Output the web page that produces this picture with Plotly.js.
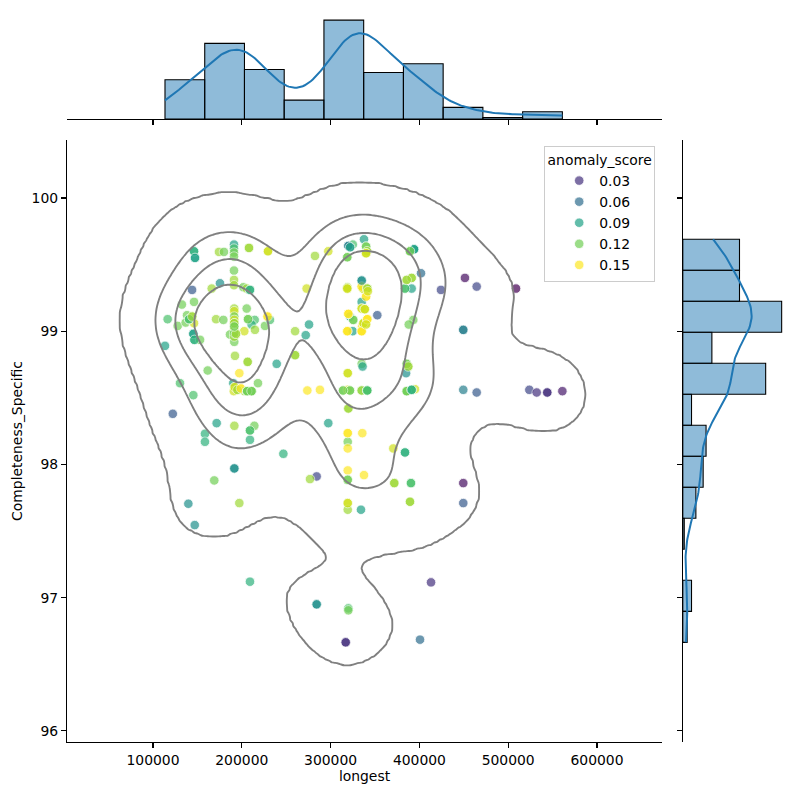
<!DOCTYPE html>
<html><head><meta charset="utf-8">
<script src="https://cdn.plot.ly/plotly-3.0.1.min.js"></script>
<style>html,body{margin:0;padding:0;background:#fff}#chart{width:800px;height:800px}</style>
</head><body><div id="chart"></div>
<script>
// ---------------- data ----------------
const longest = [
 // left / lower-left
 113500,116500,122300,130400,127800,132500,139800,147000,145400,158500,158500,171700,169000,197200,191600,161600,191600,209200,214100,209200,246800,239300,260000,190400,197200,192300,206600,218200,192000,195000,199000,203000,206000,211000,191000,
 // upper-left cluster
 146200,147300,174300,179900,191200,191200,191200,191200,208100,229500,191200,191200,191200,175400,166100,144000,201700,205500,209200,146200,138300,136800,144200,146200,140600,145400,146600,153000,171000,179200,191500,191500,191500,191500,191500,191500,191500,191500,191500,191500,205500,207000,214500,211000,202800,226100,229000,231700,186700,193500,214800,
 // middle
 282400,297400,273000,260000,272000,275700,273800,288000,297400,284300,276800,284300,209200,
 // right cluster and right side
 320000,325000,322000,337600,340000,341000,340000,318800,389400,394000,401800,385700,391300,383800,391300,318800,318800,335000,335000,336500,341300,340000,335000,335000,338500,352600,320000,321800,325500,341300,337000,335500,318800,324900,335000,393100,335000,336000,319300,385700,387500,385000,314000,319300,321800,335000,341300,385700,391300,395000,449400,464500,449400,320000,319300,335700,319300,319300,370600,383800,319300,319300,337600,371700,390500,449400,319300,319300,334200,389400,449400,451300,464500,424300,508800,523800,532100,544000,561000,320000,320000,413100,317000,400700,
 // overlapping repeats
 317000,284300,319300,389400,319300,371700,390500,191600,319300,383800,209200,320000,
 192000,195000,199000,206000,211000,319300,321800,314000,335000,341300,341300,341300,385700,385700,391300,391300,385700,387500,206000,206000,211000,544000,
 191500,191500,193500,145400,146600,206600,260000,
 140600,144200,325500,320000,340000,207000,337000,229000,318800,318800,335000,335000,320000,335000,337000,341300,341300,338500,338500,340000,389400,394000,388000,449400,
 336500,209200,318800,318800,335000,341300,341300,340000,342000,391300,383800,385700,335000,
 146200,147300,191500,191500,341000,208100,229500,320000,322000,318800,340000,341000,340000,340000,389400,394000,389400
];
const completeness = [
 98.89,99.09,98.38,98.61,99.04,99.20,97.705,97.545,98.52,98.23,98.17,98.31,97.88,97.71,97.97,98.705,98.29,98.255,98.29,98.185,98.08,98.755,98.82,98.61,98.685,98.815,98.77,98.61,98.58,98.56,98.57,98.55,98.55,98.55,98.55,
 99.60,99.55,99.595,99.595,99.65,99.62,99.59,99.56,99.625,99.60,99.455,99.385,99.345,99.36,99.32,99.31,99.33,99.32,99.31,99.22,99.12,99.065,99.11,99.06,99.09,98.98,98.935,98.935,99.09,99.085,99.17,99.15,99.11,99.085,99.06,99.035,99.01,98.985,98.96,98.92,99.17,99.09,99.085,99.05,99.00,99.04,99.11,99.085,98.975,98.98,99.01,
 99.565,99.60,99.32,99.00,98.97,99.05,98.555,98.56,98.31,97.91,97.89,96.95,97.12,
 99.64,99.65,99.63,99.69,99.635,99.60,99.585,99.555,99.60,99.615,99.435,99.385,99.40,99.32,99.32,99.32,99.33,99.38,99.335,99.32,99.32,99.26,99.22,99.17,99.165,99.12,99.13,99.11,99.085,99.09,99.06,99.035,99.00,99.00,99.00,99.085,98.755,98.735,98.685,98.755,98.735,98.685,98.555,98.56,98.555,98.555,98.555,98.55,98.56,98.565,98.56,98.54,99.01,98.42,98.235,98.235,98.17,98.12,98.12,98.09,97.955,97.885,97.92,97.86,97.86,97.86,97.71,97.66,97.66,97.72,97.71,99.40,99.335,99.31,99.32,98.56,98.54,98.54,98.55,96.92,96.905,97.115,96.665,96.685,
 96.665,96.95,97.71,97.72,97.885,97.86,97.86,97.97,98.235,98.09,98.255,98.42,
 98.58,98.56,98.57,98.55,98.55,98.685,98.555,98.555,98.555,98.555,98.555,98.555,98.55,98.55,98.56,98.56,98.755,98.735,98.55,98.55,98.55,98.54,
 98.96,98.985,98.98,98.98,98.935,98.77,98.82,
 99.09,99.11,99.085,99.13,99.06,99.09,99.06,99.11,99.00,99.00,99.00,99.00,99.13,99.17,99.06,99.09,99.09,99.165,99.165,99.05,99.60,99.615,99.05,99.01,
 99.32,99.31,99.32,99.32,99.335,99.32,99.32,99.26,99.30,99.40,99.32,99.385,99.38,
 99.60,99.55,99.06,99.035,99.60,99.625,99.60,99.64,99.63,99.555,99.635,99.60,99.585,99.585,99.60,99.615,99.60
];
const anomalyScore = [
 0.09,0.11,0.05,0.11,0.12,0.12,0.08,0.08,0.11,0.10,0.10,0.09,0.12,0.13,0.08,0.12,0.13,0.11,0.12,0.10,0.10,0.09,0.13,0.09,0.15,0.13,0.13,0.12,0.14,0.13,0.15,0.13,0.12,0.12,0.14,
 0.10,0.09,0.13,0.12,0.09,0.11,0.12,0.12,0.13,0.14,0.12,0.13,0.13,0.08,0.13,0.05,0.12,0.13,0.10,0.12,0.12,0.12,0.13,0.14,0.11,0.09,0.10,0.12,0.13,0.12,0.13,0.14,0.12,0.14,0.13,0.12,0.14,0.12,0.13,0.12,0.12,0.12,0.11,0.10,0.14,0.12,0.15,0.11,0.12,0.13,0.13,
 0.13,0.14,0.14,0.13,0.09,0.09,0.15,0.15,0.09,0.04,0.13,0.08,0.10,
 0.07,0.11,0.09,0.09,0.12,0.13,0.14,0.12,0.12,0.09,0.06,0.13,0.13,0.11,0.09,0.14,0.13,0.08,0.15,0.14,0.13,0.15,0.09,0.14,0.14,0.05,0.15,0.09,0.12,0.15,0.14,0.15,0.15,0.09,0.15,0.12,0.12,0.09,0.14,0.12,0.13,0.08,0.12,0.14,0.12,0.12,0.11,0.12,0.10,0.14,0.07,0.05,0.07,0.13,0.15,0.15,0.12,0.15,0.14,0.10,0.15,0.12,0.15,0.13,0.11,0.015,0.14,0.13,0.09,0.13,0.05,0.015,0.04,0.04,0.01,0.04,0.03,0.03,0.02,0.11,0.12,0.03,0.03,0.06,
 0.03,0.08,0.14,0.13,0.12,0.13,0.11,0.08,0.15,0.10,0.11,0.13,
 0.14,0.13,0.15,0.12,0.12,0.14,0.12,0.12,0.13,0.11,0.11,0.11,0.12,0.12,0.10,0.10,0.12,0.13,0.12,0.12,0.12,0.03,
 0.13,0.12,0.13,0.09,0.10,0.13,0.13,
 0.11,0.13,0.12,0.15,0.14,0.12,0.14,0.15,0.15,0.15,0.15,0.15,0.15,0.14,0.14,0.15,0.15,0.14,0.14,0.14,0.12,0.09,0.12,0.07,
 0.14,0.10,0.14,0.14,0.15,0.13,0.13,0.15,0.14,0.13,0.11,0.13,0.08,
 0.10,0.09,0.13,0.12,0.13,0.13,0.14,0.07,0.09,0.12,0.12,0.13,0.14,0.14,0.12,0.09,0.12
];
const xTicks = [100000, 200000, 300000, 400000, 500000, 600000];
const yTicks = [96, 97, 98, 99, 100];
const legendValues = [0.03, 0.06, 0.09, 0.12, 0.15];

// ---------------- parameters / styles ----------------
const X_BINS = 10, Y_BINS = 13;
const KDE_ISOPROP = [0.05, 0.2875, 0.525, 0.7625];
const VIRIDIS = [[0,'#440154'],[0.06274509803921569,'#48186a'],[0.12549019607843137,'#472d7b'],[0.18823529411764706,'#424086'],[0.25098039215686274,'#3b528b'],[0.3137254901960784,'#33638d'],[0.3764705882352941,'#2c728e'],[0.4392156862745098,'#26828e'],[0.5019607843137255,'#21918c'],[0.5647058823529412,'#1fa088'],[0.6274509803921569,'#28ae80'],[0.6901960784313725,'#3fbc73'],[0.7529411764705882,'#5ec962'],[0.8156862745098039,'#84d44b'],[0.8784313725490196,'#addc30'],[0.9411764705882353,'#d8e219'],[1,'#fde725']];
const FONT = 'DejaVu Sans, Liberation Sans, sans-serif';
const FS = 13.9;
const X_RANGE = [3150, 673200];
const Y_RANGE = [95.917, 100.435];
const MAIN_X = [0.08375, 0.8275];
const MAIN_Y = [0.0725, 0.825];
const TOP_Y = [0.85125, 0.981];
const RIGHT_X = [0.8535, 0.98325];

const n = longest.length;
if (completeness.length !== n || anomalyScore.length !== n) {
  throw new Error('length mismatch ' + [n, completeness.length, anomalyScore.length].join(','));
}

function mean(a){ return a.reduce((s,v)=>s+v,0)/a.length; }
function cov(a,b){ const ma=mean(a), mb=mean(b); let s=0; for(let i=0;i<a.length;i++) s+=(a[i]-ma)*(b[i]-mb); return s/(a.length-1); }
function linspace(lo,hi,k){ const r=[]; for(let i=0;i<k;i++) r.push(lo+(hi-lo)*i/(k-1)); return r; }

const xMin = Math.min(...longest), xMax = Math.max(...longest);
const yMin = Math.min(...completeness), yMax = Math.max(...completeness);
const xBin = (xMax - xMin) / X_BINS, yBin = (yMax - yMin) / Y_BINS;

function binCounts(a, lo, size, nb){
  const c = new Array(nb).fill(0);
  a.forEach(v => { let k = Math.floor((v - lo) / size + 1e-9); if (k >= nb) k = nb - 1; if (k < 0) k = 0; c[k]++; });
  return c;
}
const xCounts = binCounts(longest, xMin, xBin, X_BINS);
const yCounts = binCounts(completeness, yMin, yBin, Y_BINS);

// 1D Gaussian KDE (Scott), scaled to counts
function kde1d(data, lo, hi, k, scale){
  const m = data.length, bw = Math.sqrt(cov(data,data)) * Math.pow(m, -0.2);
  const g = linspace(lo, hi, k), d = [];
  for (const t of g){ let s=0; for (const v of data){ const u=(t-v)/bw; s+=Math.exp(-0.5*u*u); } d.push(s/(m*bw*Math.sqrt(2*Math.PI))*scale); }
  return {g, d};
}
const kx = kde1d(longest, xMin, xMax, 200, n * xBin);
const ky = kde1d(completeness, yMin, yMax, 200, n * yBin);

// 2D Gaussian KDE (Scott) for the joint contours
const f2 = Math.pow(n, -1/6);
const sxx = cov(longest,longest)*f2*f2, syy = cov(completeness,completeness)*f2*f2, sxy = cov(longest,completeness)*f2*f2;
const det = sxx*syy - sxy*sxy;
const ixx = syy/det, iyy = sxx/det, ixy = -sxy/det;
const bwx = Math.sqrt(sxx), bwy = Math.sqrt(syy);
const G = 200;
const gx = linspace(xMin - 3*bwx, xMax + 3*bwx, G);
const gy = linspace(yMin - 3*bwy, yMax + 3*bwy, G);
const dens = [];
const flat = [];
for (let j=0;j<G;j++){
  const row = [];
  for (let i=0;i<G;i++){
    let s=0;
    for (let p=0;p<n;p++){
      const dx = gx[i]-longest[p], dy = gy[j]-completeness[p];
      s += Math.exp(-0.5*(ixx*dx*dx + 2*ixy*dx*dy + iyy*dy*dy));
    }
    row.push(s); flat.push(s);
  }
  dens.push(row);
}
const sorted = flat.slice().sort((a,b)=>b-a);
const total = sorted.reduce((s,v)=>s+v,0);
const cum = []; { let c=0; for (const v of sorted){ c+=v; cum.push(c/total); } }
function levelFor(q){ const target = 1-q; let i=0; while (i<cum.length-1 && cum[i] < target) i++; return sorted[i]; }
const lv = KDE_ISOPROP.map(levelFor);
const knots = [0, ...lv, sorted[0]*1.0000001];
function warp(d){
  for (let k=1;k<knots.length;k++){ if (d <= knots[k]) return (k-1) + (d-knots[k-1])/(knots[k]-knots[k-1]); }
  return knots.length-1;
}
const zWarp = dens.map(r => r.map(warp));

// colours
function hexToRgb(h){ return [1,3,5].map(i=>parseInt(h.slice(i,i+2),16)); }
function viridisAt(t){
  t = Math.max(0, Math.min(1, t));
  for (let i=1;i<VIRIDIS.length;i++){
    if (t <= VIRIDIS[i][0]){
      const a = hexToRgb(VIRIDIS[i-1][1]), b = hexToRgb(VIRIDIS[i][1]);
      const f = (t-VIRIDIS[i-1][0])/(VIRIDIS[i][0]-VIRIDIS[i-1][0]);
      return 'rgb(' + a.map((v,k)=>Math.round(v+(b[k]-v)*f)).join(',') + ')';
    }
  }
  return VIRIDIS[VIRIDIS.length-1][1];
}
const cMin = Math.min(...anomalyScore), cMax = Math.max(...anomalyScore);

const HIST_FILL = 'rgba(31,119,180,0.5)';
const traces = [];
traces.push({
  type:'scatter', mode:'markers', x: longest, y: completeness, xaxis:'x', yaxis:'y',
  marker:{ color: anomalyScore, colorscale: VIRIDIS, cmin: cMin, cmax: cMax, size: 9.5, opacity: 0.7, line:{color:'white', width:0.8} },
  showlegend:false, hoverinfo:'skip'
});
traces.push({
  type:'contour', x: gx, y: gy, z: zWarp, xaxis:'x4', yaxis:'y4',
  autocontour:false, contours:{ start:1, end:4, size:1, coloring:'lines', showlabels:false },
  colorscale:[[0,'#808080'],[1,'#808080']], showscale:false, line:{width:1.9, smoothing:1},
  showlegend:false, hoverinfo:'skip'
});
legendValues.forEach(v => {
  traces.push({ type:'scatter', mode:'markers', x:[null], y:[null], xaxis:'x', yaxis:'y', name: v.toFixed(2),
    marker:{ color: viridisAt((v-cMin)/(cMax-cMin)), size: 9.5, opacity: 0.7, line:{color:'white', width:0.8} }, showlegend:true });
});
traces.push({
  type:'histogram', x: longest, xaxis:'x2', yaxis:'y2',
  xbins:{ start: xMin, end: xMax + xBin*0.5, size: xBin*(1+1e-9) },
  marker:{ color: HIST_FILL, line:{ color:'black', width:1.1 } }, showlegend:false, hoverinfo:'skip'
});
traces.push({ type:'scatter', mode:'lines', x: kx.g, y: kx.d, xaxis:'x2', yaxis:'y2', line:{color:'#1f77b4', width:2}, showlegend:false, hoverinfo:'skip' });
traces.push({
  type:'histogram', y: completeness, xaxis:'x3', yaxis:'y3', orientation:'h',
  ybins:{ start: yMin, end: yMax + yBin*0.5, size: yBin*(1+1e-9) },
  marker:{ color: HIST_FILL, line:{ color:'black', width:1.1 } }, showlegend:false, hoverinfo:'skip'
});
traces.push({ type:'scatter', mode:'lines', x: ky.d, y: ky.g, xaxis:'x3', yaxis:'y3', line:{color:'#1f77b4', width:2}, showlegend:false, hoverinfo:'skip' });

const axisBase = { showgrid:false, zeroline:false, showline:true, linecolor:'#000', linewidth:1.1, ticks:'outside', ticklen:5, tickwidth:1.1, tickcolor:'#000', automargin:false, tickfont:{size:FS, family:FONT, color:'#000'} };
const layout = {
  width:800, height:800, margin:{l:0,r:0,t:0,b:0}, paper_bgcolor:'#fff', plot_bgcolor:'rgba(0,0,0,0)',
  font:{family:FONT, size:FS, color:'#000'}, bargap:0, showlegend:true,
  legend:{ x:0.819, y:0.8175, xanchor:'right', yanchor:'top', bgcolor:'rgba(255,255,255,0.8)', bordercolor:'#cccccc', borderwidth:1,
    title:{ text:'anomaly_score', side:'top center', font:{size:FS} }, font:{size:FS}, tracegroupgap:0, indentation:14 },
  xaxis: Object.assign({}, axisBase, { domain: MAIN_X, anchor:'y', range: X_RANGE, tickmode:'array', tickvals: xTicks, ticktext: xTicks.map(String),
    title:{ text:'longest', font:{size:FS}, standoff:4 } }),
  yaxis: Object.assign({}, axisBase, { domain: MAIN_Y, anchor:'x', range: Y_RANGE, tickmode:'array', tickvals: yTicks, ticktext: yTicks.map(String),
    title:{ text:'Completeness_Specific', font:{size:FS}, standoff:5 } }),
  xaxis4:{ overlaying:'x', anchor:'y4', range: X_RANGE, visible:false },
  yaxis4:{ overlaying:'y', anchor:'x4', range: Y_RANGE, visible:false },
  xaxis2: Object.assign({}, axisBase, { domain: MAIN_X, anchor:'y2', range: X_RANGE, tickmode:'array', tickvals: xTicks, showticklabels:false }),
  yaxis2:{ domain: TOP_Y, anchor:'x2', range:[0, Math.max(...xCounts)*1.05], visible:false },
  xaxis3:{ domain: RIGHT_X, anchor:'y3', range:[0, Math.max(...yCounts)*1.05], visible:false },
  yaxis3: Object.assign({}, axisBase, { domain: MAIN_Y, anchor:'x3', range: Y_RANGE, tickmode:'array', tickvals: yTicks, showticklabels:false })
};
Plotly.newPlot('chart', traces, layout, {displayModeBar:false, staticPlot:true});
</script>
</body></html>
